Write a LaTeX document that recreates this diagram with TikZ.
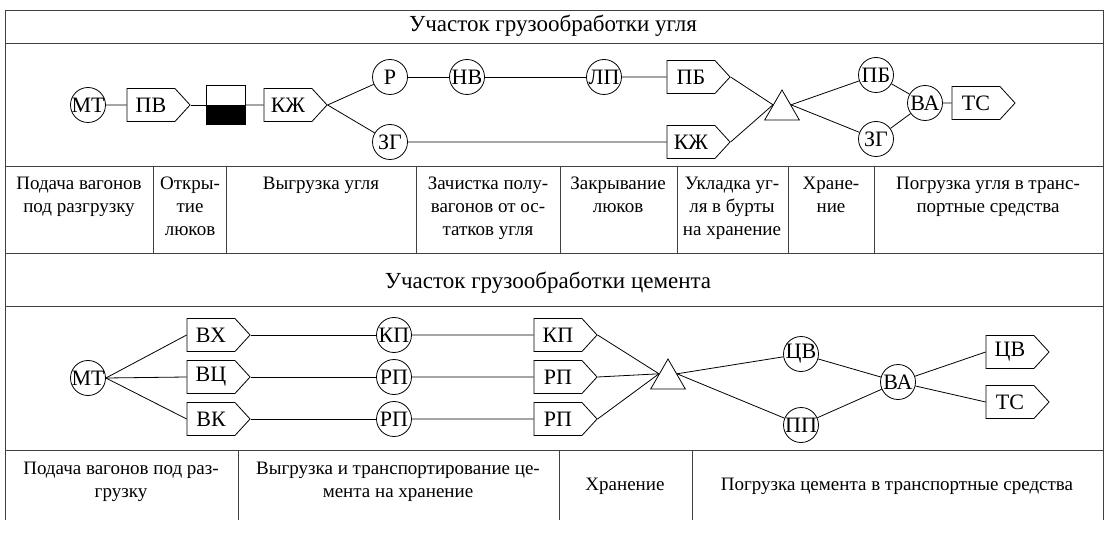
\documentclass[tikz,border=0pt]{standalone}
\usepackage{fontspec}
\setmainfont{Liberation Serif}
\usetikzlibrary{shapes.symbols,shapes.geometric}
\newcommand\labfont{\fontsize{22}{25}\selectfont}
\newcommand\tabfont{\fontsize{19}{23}\selectfont}
\newcommand\ttlfont{\fontsize{23}{26}\selectfont}
\newcommand\cn[1]{\makebox[0pt][c]{#1}}
\tikzset{
 ln/.style={line width=0.8pt},
 frm/.style={line width=0.8pt, black!75},
 circ/.style={circle, draw, line width=0.8pt, minimum size=35pt, inner sep=0pt, font=\labfont},
 sig/.style={signal, signal to=east, draw, line width=0.8pt, minimum height=33pt, minimum width=63pt, inner sep=0pt, font=\labfont, signal pointer angle=95},
 tri/.style={regular polygon, regular polygon sides=3, draw, line width=0.8pt, minimum size=40pt, inner sep=0pt},
 cell/.style={anchor=north, align=center, font=\tabfont, inner sep=0pt},
 cellb/.style={anchor=base, align=center, font=\tabfont, inner sep=0pt},
 ttl/.style={font=\ttlfont, inner sep=0pt},
}
\begin{document}
\begin{tikzpicture}[x=1pt,y=-1pt]
\useasboundingbox (0,0) rectangle (1109,556);
% frame
\draw[frm] (5,10) -- (1103,10);
\draw[frm] (5,43) -- (1103,43);
\draw[frm] (5,166) -- (1103,166);
\draw[frm] (5,253) -- (1103,253);
\draw[frm] (5,306) -- (1103,306);
\draw[frm] (5,450) -- (1103,450);
\draw[frm] (5,10) -- (5,520);
\draw[frm] (1103,10) -- (1103,520);
\foreach \x in {153,226,416,560,677,788,874} \draw[frm] (\x,166) -- (\x,253);
\foreach \x in {238,559,692} \draw[frm] (\x,450) -- (\x,520);
% titles
\node[ttl] (t1) at (553,26) {Участок грузообработки угля};
\node[ttl] (t2) at (548,283) {Участок грузообработки цемента};
% coal table
\node[cell] (c1) at (79,177) {Подача вагонов\\под разгрузку};
\node[cell] (c2) at (190,177) {Откры-\\тие\\люков};
\node[cell] (c3) at (321,177) {Выгрузка угля};
\node[cell] (c4) at (488,177) {Зачистка полу-\\вагонов от ос-\\татков угля};
\node[cell] (c5) at (618,177) {Закрывание\\люков};
\node[cell] (c6) at (732,177) {Укладка уг-\\ля в бурты\\на хранение};
\node[cell] (c7) at (831,177) {Хране-\\ние};
\node[cell] (c8) at (988,177) {Погрузка угля в транс-\\портные средства};
% cement table
\node[cell] (d1) at (121,462) {Подача вагонов под раз-\\грузку};
\node[cell] (d2) at (398,462) {Выгрузка и транспортирование це-\\мента на хранение};
\node[cellb] (d3) at (625,490) {Хранение};
\node[cellb] (d4) at (897,490) {Погрузка цемента в транспортные средства};
% coal diagram
\node[circ] (mt1) at (88,105) {\cn{МТ}};
\node[sig] (pv) at (151,105) {ПВ};
\node[draw, line width=0.8pt, minimum width=39pt, minimum height=39pt, inner sep=0pt,
  path picture={\fill[black] (path picture bounding box.west) rectangle (path picture bounding box.south east);}] (bw) at (226,105) {};
\node[sig] (kzh1) at (288,105) {КЖ};
\node[circ] (r) at (390,77) {\cn{Р}};
\node[circ] (zg1) at (390,142) {\cn{ЗГ}};
\node[circ] (nv) at (467,77) {\cn{НВ}};
\node[circ] (lp) at (604,77) {\cn{ЛП}};
\node[sig] (pb1) at (691,77) {ПБ};
\node[sig] (kzh2) at (691,142) {КЖ};
\node[tri] (tri1) at (782,110) {};
\node[circ] (pb2) at (876,75) {\cn{ПБ}};
\node[circ] (zg2) at (876,139) {\cn{ЗГ}};
\node[circ] (va1) at (925,103) {\cn{ВА}};
\node[sig] (ts1) at (976,103) {ТС};
\draw[ln] (mt1) -- (pv);
\draw[ln] (pv.east) -- (bw);
\draw[ln] (bw) -- (kzh1);
\draw[ln] (kzh1.east) -- (r);
\draw[ln] (kzh1.east) -- (zg1);
\draw[ln] (r) -- (nv);
\draw[ln] (nv) -- (lp);
\draw[ln] (lp) -- (pb1);
\draw[ln] (zg1) -- (kzh2);
\draw[ln] (pb1.east) -- (tri1.side 1);
\draw[ln] (kzh2.east) -- (tri1.side 1);
\draw[ln] (tri1.side 3) -- (pb2);
\draw[ln] (tri1.side 3) -- (zg2);
\draw[ln] (pb2) -- (va1);
\draw[ln] (zg2) -- (va1);
\draw[ln] (va1) -- (ts1);
% cement diagram
\node[circ] (mt2) at (88,378) {\cn{МТ}};
\node[sig] (vx) at (211,335) {ВХ};
\node[sig] (vc) at (211,377) {ВЦ};
\node[sig] (vk) at (211,419) {ВК};
\node[circ] (kp) at (394,335) {\cn{КП}};
\node[circ] (rp1) at (394,377) {\cn{РП}};
\node[circ] (rp2) at (394,419) {\cn{РП}};
\node[sig] (kpb) at (558,335) {КП};
\node[sig] (rpb1) at (558,377) {РП};
\node[sig] (rpb2) at (558,419) {РП};
\node[tri] (tri2) at (668,379) {};
\node[circ] (cv) at (801,354) {\cn{ЦВ}};
\node[circ] (pp) at (801,425) {\cn{ПП}};
\node[circ] (va2) at (898,382) {\cn{ВА}};
\node[sig] (cvb) at (1010,352) {ЦВ};
\node[sig] (tsb) at (1010,402) {ТС};
\draw[ln] (mt2.east) -- (vx.west);
\draw[ln] (mt2.east) -- (vc.west);
\draw[ln] (mt2.east) -- (vk.west);
\draw[ln] (vx.east) -- (kp);
\draw[ln] (vc.east) -- (rp1);
\draw[ln] (vk.east) -- (rp2);
\draw[ln] (kp) -- (kpb);
\draw[ln] (rp1) -- (rpb1);
\draw[ln] (rp2) -- (rpb2);
\draw[ln] (kpb.east) -- (tri2.side 1);
\draw[ln] (rpb1.east) -- (tri2.side 1);
\draw[ln] (rpb2.east) -- (tri2.side 1);
\draw[ln] (tri2.side 3) -- (cv);
\draw[ln] (tri2.side 3) -- (pp);
\draw[ln] (cv) -- (va2);
\draw[ln] (pp) -- (va2);
\draw[ln] (va2) -- (cvb.west);
\draw[ln] (va2) -- (tsb.west);
\end{tikzpicture}
\end{document}
